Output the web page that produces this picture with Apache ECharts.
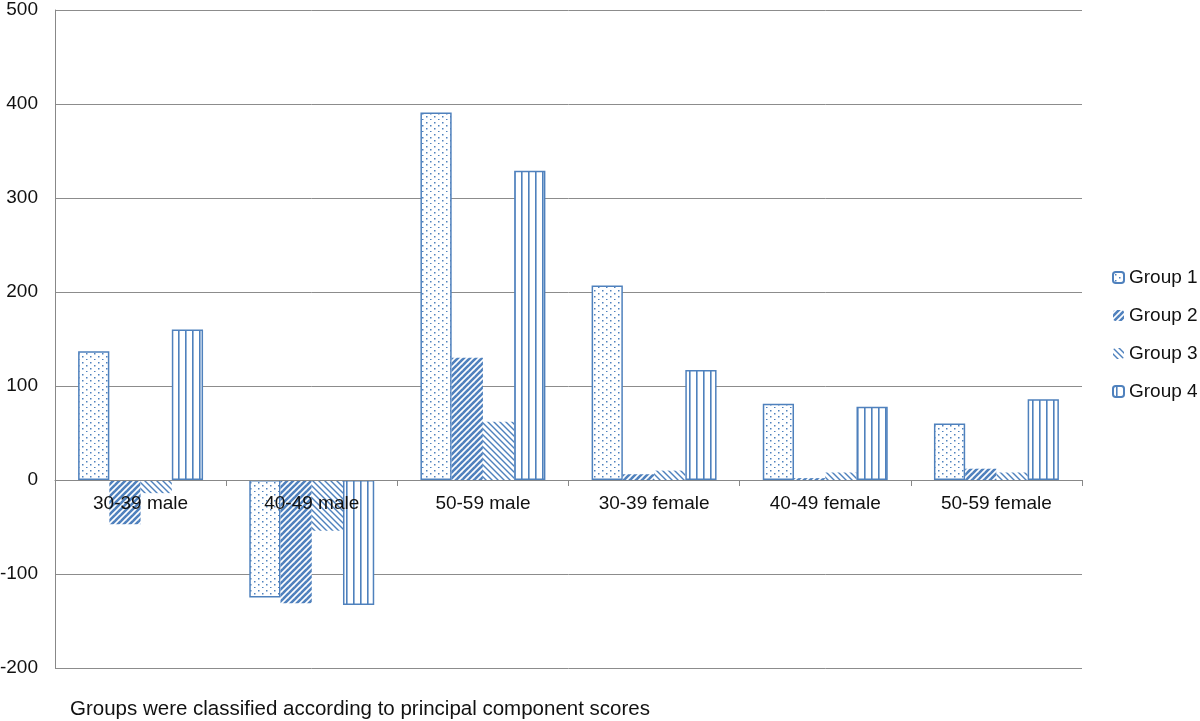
<!DOCTYPE html>
<html><head><meta charset="utf-8">
<script src="https://cdn.jsdelivr.net/npm/echarts@6/dist/echarts.min.js"></script>
<style>html,body{margin:0;padding:0;background:#fff}#c{width:1200px;height:721px}</style>
</head><body><div id="c"></div>
<script>
const categories = ['30-39 male','40-49 male','50-59 male','30-39 female','40-49 female','50-59 female'];
const seriesNames = ['Group 1','Group 2','Group 3','Group 4'];
const group1 = [137, -125, 391, 207, 81, 60];
const group2 = [-47, -131, 130, 6, 2, 12];
const group3 = [-14, -54, 62, 10, 8, 8];
const group4 = [160, -133, 329, 117, 78, 86];
const yTicks = [-200, -100, 0, 100, 200, 300, 400, 500];
const footnote = 'Groups were classified according to principal component scores';

const BLUE = '#4F81BD';
const FONT = 'Liberation Sans, Arial, sans-serif';
function tile(w, h, draw) {
  const c = document.createElement('canvas'); c.width = w; c.height = h;
  const g = c.getContext('2d'); g.fillStyle = '#fff'; g.fillRect(0, 0, w, h);
  g.strokeStyle = BLUE; g.fillStyle = BLUE; draw(g, w, h); return c;
}
const dots = tile(8, 12, (g) => { g.fillRect(2, 2, 1.5, 1.5); g.fillRect(2, 8, 1.5, 1.5); g.fillRect(6, 5, 1.5, 1.5); g.fillRect(6, 11, 1.5, 1.5); });
function diag(dir, lw) {
  return tile(6, 6, (g, w, h) => {
    g.lineWidth = lw;
    for (let k = -1; k <= 1; k++) {
      g.beginPath();
      if (dir > 0) { g.moveTo(k * w - 1, h + 1); g.lineTo(k * w + w + 1, -1); }
      else { g.moveTo(k * w - 1, -1); g.lineTo(k * w + w + 1, h + 1); }
      g.stroke();
    }
  });
}
const fwd = diag(1, 2.6);
const back = diag(-1, 1.4);
const vert = tile(7, 4, (g) => { g.fillRect(3, 0, 1.6, 4); });

const fills = [dots, fwd, back, vert];
const borders = [1.5, 0, 0, 1.5];
const datas = [group1, group2, group3, group4];

const yMin = yTicks[0], yMax = yTicks[yTicks.length - 1];
const gridTop = 10, gridBottom = 53, H = 721;
const plotH = H - gridTop - gridBottom;
const zeroOffset = -(plotH * (0 - yMin) / (yMax - yMin));

const chart = echarts.init(document.getElementById('c'), null, {renderer: 'canvas'});
chart.setOption({
  animation: false,
  textStyle: {fontFamily: FONT},
  grid: {left: 55, right: 118, top: gridTop, bottom: gridBottom, containLabel: false, outerBoundsMode: 'none'},
  legend: {
    orient: 'vertical', left: 1107, top: 263, itemGap: 19, itemWidth: 11, itemHeight: 11,
    textStyle: {fontSize: 19, color: '#111', fontFamily: FONT},
    data: seriesNames
  },
  xAxis: {
    type: 'category', data: categories, position: 'bottom', offset: zeroOffset, z: 10,
    axisLine: {onZero: false, lineStyle: {color: '#888', width: 1}},
    axisTick: {show: true, alignWithLabel: false, length: 6, lineStyle: {color: '#888'}},
    axisLabel: {color: '#111', fontSize: 19, margin: 14, interval: 0, fontFamily: FONT},
    splitLine: {show: false}
  },
  yAxis: {
    type: 'value', min: yMin, max: yMax, interval: 100,
    axisLine: {show: true, lineStyle: {color: '#888'}},
    axisTick: {show: false},
    axisLabel: {color: '#111', fontSize: 19, margin: 17, fontFamily: FONT},
    splitLine: {lineStyle: {color: '#8c8c8c', width: 1}}
  },
  series: seriesNames.map((n, i) => ({
    name: n, type: 'bar', data: datas[i], z: 2,
    barGap: '0%', barCategoryGap: '27%',
    itemStyle: {color: {image: fills[i], repeat: 'repeat'}, borderColor: BLUE, borderWidth: borders[i]}
  })),
  graphic: [{type: 'text', left: 70, top: 699, style: {text: footnote, fontSize: 20.5, fill: '#111', fontFamily: FONT}}]
});
</script></body></html>
